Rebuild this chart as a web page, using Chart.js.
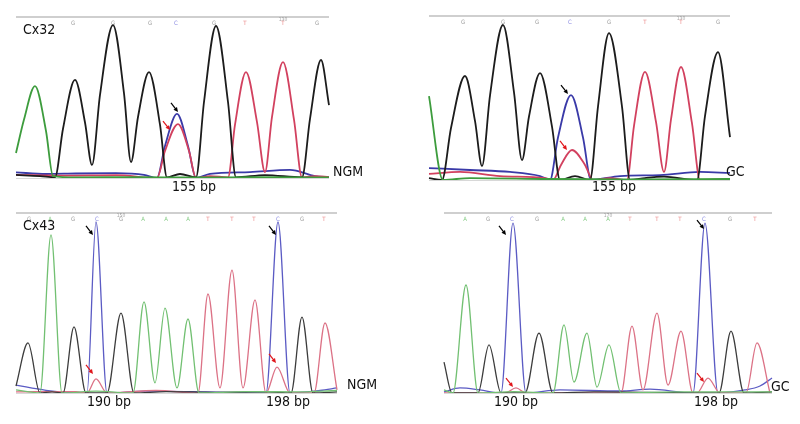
<!DOCTYPE html>
<html lang="en">
<head>
  <meta charset="utf-8" />
  <title>Cx32 / Cx43 sequencing traces</title>
  <script src="https://cdn.jsdelivr.net/npm/chart.js"></script>
  <style>
    html, body { margin: 0; padding: 0; background: #fff; }
    #page { position: relative; width: 800px; height: 424px; overflow: hidden; }
    #page canvas { position: absolute; }
  </style>
</head>
<body>
<div id="page">
  <canvas id="p1" width="400" height="212" style="left:0;top:0"></canvas>
  <canvas id="p2" width="400" height="212" style="left:400px;top:0"></canvas>
  <canvas id="p3" width="400" height="212" style="left:0;top:212px"></canvas>
  <canvas id="p4" width="400" height="212" style="left:400px;top:212px"></canvas>
</div>

<script>
  // traces: [scan, signal] (signal 0 = baseline, 1000 = top frame)

  // Cx32, NGM
  const p1Green = [[0,155],[8,363],[19,571],[30,292],[37,12],[60,4],[120,6],[180,3],[240,5],[313,3]];
  const p1Black = [[0,19],[24,12],[39,4],[47,306],[59,609],[69,345],[76,81],[84,516],[97,950],[108,525],[115,99],[122,379],[133,658],[144,331],[151,4],[164,25],[180,4],[188,472],[200,944],[212,472],[220,4],[249,18],[286,4],[294,367],[305,733],[313,453]];
  const p1Blue  = [[0,35],[30,25],[60,28],[100,30],[128,20],[141,0],[149,199],[161,398],[172,199],[180,0],[194,25],[234,37],[274,50],[299,12],[313,6]];
  const p1Red   = [[0,20],[50,15],[100,18],[141,0],[149,168],[162,335],[173,168],[180,0],[194,12],[212,4],[219,331],[230,658],[241,347],[249,37],[256,379],[267,720],[278,362],[286,4],[299,12],[313,6]];
  const p1Bases = 'GGGCGTTG';
  const p1BasePos = [57,97,134,160,198,229,267,301];

  // Cx32, GC
  const p2Green = [[0,512],[14,0],[41,12],[120,6],[200,4],[301,6]];
  const p2Black = [[0,12],[13,0],[22,317],[36,634],[46,360],[53,85],[61,515],[74,945],[85,534],[93,122],[100,387],[111,652],[123,326],[131,0],[146,24],[161,0],[169,448],[180,896],[193,448],[201,0],[216,12],[235,20],[268,0],[276,390],[289,780],[301,262]];
  const p2Blue  = [[0,73],[41,61],[81,49],[111,24],[121,0],[129,259],[142,518],[154,259],[162,0],[191,24],[231,30],[271,49],[301,43]];
  const p2Red   = [[0,37],[31,49],[71,24],[116,12],[124,0],[132,92],[143,183],[156,92],[164,0],[181,12],[198,0],[205,330],[216,659],[227,354],[235,49],[242,369],[252,689],[263,345],[271,0],[301,6]];
  const p2Bases = 'GGGCGTTG';
  const p2BasePos = [34,74,108,141,180,216,252,289];

  // Cx43, NGM
  const p3Black = [[0,39],[12,278],[24,0],[36,6],[47,0],[58,367],[70,0],[91,0],[105,444],[118,0],[150,8],[200,4],[250,6],[275,0],[286,422],[297,0],[321,6]];
  const p3Green = [[0,17],[24,0],[35,878],[46,0],[80,10],[117,0],[128,506],[139,56],[149,472],[161,28],[172,411],[183,0],[230,8],[280,6],[321,14]];
  const p3Blue  = [[0,44],[30,15],[71,0],[80,950],[91,0],[130,10],[190,6],[250,0],[262,950],[274,0],[304,14],[321,28]];
  const p3Red   = [[0,6],[60,8],[71,0],[80,78],[91,0],[140,14],[182,0],[192,550],[204,28],[216,683],[227,28],[239,517],[250,0],[261,144],[274,0],[298,0],[309,389],[321,17]];
  const p3Bases = 'GAGCGAAATTTCGT';
  const p3BasePos = [13,34,57,81,105,127,150,172,192,216,238,262,286,308];

  // Cx43, GC
  const p4Black = [[0,172],[8,0],[34,0],[45,267],[57,0],[81,0],[95,333],[109,0],[150,6],[200,4],[275,0],[287,344],[300,0],[328,6]];
  const p4Green = [[0,17],[9,0],[22,600],[34,0],[70,8],[109,0],[120,378],[130,61],[143,333],[153,33],[165,267],[177,0],[230,6],[328,6]];
  const p4Blue  = [[0,6],[16,28],[36,17],[57,0],[69,944],[82,0],[116,17],[176,11],[206,22],[249,0],[261,944],[274,0],[301,17],[316,39],[328,83]];
  const p4Red   = [[0,0],[61,0],[72,28],[82,0],[177,0],[188,372],[199,17],[213,444],[224,44],[237,344],[249,0],[253,0],[264,83],[276,0],[302,0],[313,278],[326,0]];
  const p4Bases = 'AGCGAAATTTCGT';
  const p4BasePos = [21,44,68,93,119,141,164,186,213,236,260,286,311];

  // arrows: [scan, signal, colour]
  const p1Arrows = [[162,410,'black'],[154,298,'red']];
  const p2Arrows = [[139,524,'black'],[138,183,'red']];
  const p3Arrows = [[77,878,'black'],[260,878,'black'],[77,106,'red'],[260,167,'red']];
  const p4Arrows = [[62,878,'black'],[260,911,'black'],[69,33,'red'],[260,61,'red']];

  const FONT = '"DejaVu Sans Condensed", "Liberation Sans", sans-serif';
  const baseColor = { G: '#555', A: '#3a3', T: '#d33', C: '#33c' };

  // draws frame line, base calls, labels and arrows on top of the traces
  const decor = {
    id: 'decor',
    afterDatasetsDraw(chart, args, o) {
      const { ctx, chartArea: a, scales: { x, y } } = chart;
      ctx.save();
      ctx.strokeStyle = '#cfcfcf';
      ctx.lineWidth = 2;
      ctx.beginPath(); ctx.moveTo(a.left, a.top); ctx.lineTo(a.right, a.top); ctx.stroke();
      ctx.strokeStyle = '#d8d8d8';
      ctx.lineWidth = 1;
      ctx.beginPath(); ctx.moveTo(a.left, a.bottom + 0.5); ctx.lineTo(a.right, a.bottom + 0.5); ctx.stroke();

      ctx.textAlign = 'center';
      ctx.textBaseline = 'middle';
      ctx.font = '6px ' + FONT;
      o.basePos.forEach((p, i) => {
        const b = o.bases[i];
        ctx.fillStyle = baseColor[b];
        ctx.globalAlpha = 0.6;
        ctx.fillText(b, x.getPixelForValue(p), a.top + 6);
      });
      ctx.font = '5px ' + FONT;
      ctx.fillStyle = '#666';
      ctx.fillText(o.mark, x.getPixelForValue(o.markPos), a.top + 2.5);
      ctx.globalAlpha = 1;

      ctx.font = '14px ' + FONT;
      ctx.fillStyle = '#111';
      ctx.textAlign = 'left';
      if (o.title) ctx.fillText(o.title, a.left + 7, a.top + 13);
      ctx.fillText(o.side, a.right + o.sideDx, a.bottom + o.sideDy);
      ctx.textAlign = 'center';
      o.bp.forEach((t, i) => ctx.fillText(t, x.getPixelForValue(o.bpPos[i]), a.bottom + o.bpDy));

      o.arrows.forEach(([sx, sy, c]) => {
        const tx = x.getPixelForValue(sx), ty = y.getPixelForValue(sy);
        const fx = tx - 7, fy = ty - 9;
        const ang = Math.atan2(ty - fy, tx - fx);
        const col = c === 'red' ? '#e0161b' : '#000';
        ctx.strokeStyle = col; ctx.fillStyle = col; ctx.lineWidth = 1.2;
        ctx.beginPath(); ctx.moveTo(fx, fy); ctx.lineTo(tx - 2 * Math.cos(ang), ty - 2 * Math.sin(ang)); ctx.stroke();
        ctx.beginPath();
        ctx.moveTo(tx, ty);
        ctx.lineTo(tx - 5 * Math.cos(ang - 0.45), ty - 5 * Math.sin(ang - 0.45));
        ctx.lineTo(tx - 5 * Math.cos(ang + 0.45), ty - 5 * Math.sin(ang + 0.45));
        ctx.closePath(); ctx.fill();
      });
      ctx.restore();
    }
  };

  function trace(points, color, width) {
    return {
      data: points.map(p => ({ x: p[0], y: p[1] })),
      borderColor: color,
      borderWidth: width,
      pointRadius: 0,
      cubicInterpolationMode: 'monotone',
      clip: false,
      fill: false
    };
  }

  function makePanel(id, cfg) {
    new Chart(document.getElementById(id), {
      type: 'line',
      data: { datasets: cfg.traces },
      options: {
        responsive: false,
        animation: false,
        layout: { padding: cfg.pad },
        scales: {
          x: { type: 'linear', display: false, min: 0, max: cfg.width },
          y: { display: false, min: 0, max: 1000 }
        },
        plugins: {
          legend: { display: false },
          tooltip: { enabled: false },
          decor: cfg.decor
        }
      },
      plugins: [decor]
    });
  }

  const topCol = { G: '#1c1c1c', A: '#3d9c3d', T: '#d2415f', C: '#3a3aa8' };
  const lowCol = { G: '#3c3c3c', A: '#72c072', T: '#dc7286', C: '#5b5bc4' };

  makePanel('p1', {
    width: 313, pad: { left: 16, top: 17, right: 71, bottom: 34 },
    traces: [trace(p1Green, topCol.A, 1.8), trace(p1Black, topCol.G, 1.8), trace(p1Red, topCol.T, 1.8), trace(p1Blue, topCol.C, 1.8)],
    decor: { title: 'Cx32', side: 'NGM', sideDx: 4, sideDy: -6, bases: p1Bases, basePos: p1BasePos, mark: '130', markPos: 267,
             bp: ['155 bp'], bpPos: [178], bpDy: 9, arrows: p1Arrows }
  });
  makePanel('p2', {
    width: 301, pad: { left: 29, top: 16, right: 70, bottom: 32 },
    traces: [trace(p2Green, topCol.A, 1.8), trace(p2Black, topCol.G, 1.8), trace(p2Red, topCol.T, 1.8), trace(p2Blue, topCol.C, 1.8)],
    decor: { title: '', side: 'GC', sideDx: -4, sideDy: -8, bases: p2Bases, basePos: p2BasePos, mark: '130', markPos: 252,
             bp: ['155 bp'], bpPos: [185], bpDy: 7, arrows: p2Arrows }
  });
  makePanel('p3', {
    width: 321, pad: { left: 16, top: 1, right: 63, bottom: 31 },
    traces: [trace(p3Green, lowCol.A, 1.3), trace(p3Black, lowCol.G, 1.3), trace(p3Red, lowCol.T, 1.3), trace(p3Blue, lowCol.C, 1.3)],
    decor: { title: 'Cx43', side: 'NGM', sideDx: 10, sideDy: -8, bases: p3Bases, basePos: p3BasePos, mark: '150', markPos: 105,
             bp: ['190 bp', '198 bp'], bpPos: [93, 272], bpDy: 9, arrows: p3Arrows }
  });
  makePanel('p4', {
    width: 328, pad: { left: 44, top: 1, right: 28, bottom: 31 },
    traces: [trace(p4Green, lowCol.A, 1.3), trace(p4Black, lowCol.G, 1.3), trace(p4Red, lowCol.T, 1.3), trace(p4Blue, lowCol.C, 1.3)],
    decor: { title: '', side: 'GC', sideDx: -1, sideDy: -6, bases: p4Bases, basePos: p4BasePos, mark: '170', markPos: 164,
             bp: ['190 bp', '198 bp'], bpPos: [72, 272], bpDy: 9, arrows: p4Arrows }
  });
</script>
</body>
</html>
